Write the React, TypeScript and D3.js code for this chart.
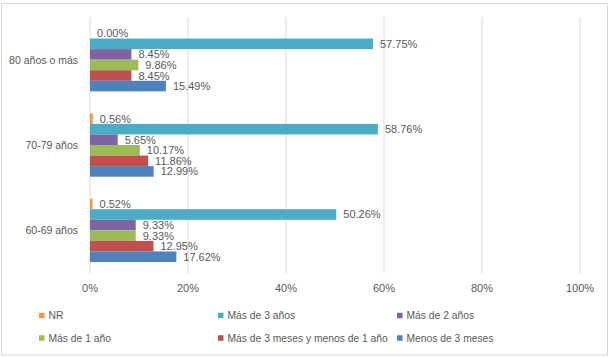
import React from "react";
import * as d3 from "d3";

const categories = ["80 años o más", "70-79 años", "60-69 años"];
const seriesNames = [
  "NR",
  "Más de 3 años",
  "Más de 2 años",
  "Más de 1 año",
  "Más de 3 meses y menos de 1 año",
  "Menos de 3 meses",
];
const seriesColors = ["#F79646", "#4BACC6", "#8064A2", "#9BBB59", "#C0504D", "#4F81BD"];
// values per series, aligned with categories
const nr = [0.0, 0.56, 0.52];
const mas3anos = [57.75, 58.76, 50.26];
const mas2anos = [8.45, 5.65, 9.33];
const mas1ano = [9.86, 10.17, 9.33];
const mas3meses = [8.45, 11.86, 12.95];
const menos3meses = [15.49, 12.99, 17.62];
const seriesValues = [nr, mas3anos, mas2anos, mas1ano, mas3meses, menos3meses];
const xTicks = [0, 20, 40, 60, 80, 100];

const W = 611;
const H = 358;
const FONT = "'Liberation Sans', Arial, sans-serif";
const TXT = "#595959";

export default function App() {
  const left = 90, right = 580, top = 17, bottom = 273;
  const x = d3.scaleLinear().domain([0, 100]).range([left, right]);
  const y = d3.scaleBand<string>().domain(categories).range([top, bottom]).paddingInner(0).paddingOuter(0);
  const groupInner = y.bandwidth() * 0.743;
  const yi = d3
    .scaleBand<string>()
    .domain(seriesNames)
    .range([0, groupInner]);
  const legendRows = [
    [0, 1, 2],
    [3, 4, 5],
  ];
  const legendCols = [39, 218, 397];
  const legendY = [315.5, 338];

  return (
    <svg width={W} height={H} style={{ position: "absolute", left: 0, top: 0 }} fontFamily={FONT}>
      <rect x={0} y={0} width={W} height={H} fill="#fff" />
      <rect x={1.5} y={3.5} width={606} height={351.5} fill="#fff" stroke="#D9D9D9" />
      {xTicks.map((t) => (
        <g key={t}>
          <line x1={x(t)} x2={x(t)} y1={top} y2={bottom} stroke="#D9D9D9" strokeWidth={1} />
          <text x={x(t)} y={288} textAnchor="middle" dominantBaseline="central" fontSize={11} fill={TXT}>
            {t}%
          </text>
        </g>
      ))}
      {categories.map((c, ci) => {
        const bandTop = (y(c) as number) + (y.bandwidth() - groupInner) / 2;
        return (
          <g key={c}>
            <text
              x={78}
              y={(y(c) as number) + y.bandwidth() / 2}
              textAnchor="end"
              dominantBaseline="central"
              fontSize={10.5}
              fill={TXT}
            >
              {c}
            </text>
            {seriesNames.map((s, si) => {
              const v = seriesValues[si][ci];
              const by = bandTop + (yi(s) as number);
              const bh = yi.bandwidth();
              return (
                <g key={s}>
                  <rect x={x(0)} y={by} width={Math.max(0, x(v) - x(0))} height={bh} fill={seriesColors[si]} />
                  <text
                    x={x(v) + 7}
                    y={by + bh / 2}
                    dominantBaseline="central"
                    fontSize={11}
                    fill={TXT}
                  >
                    {v.toFixed(2)}%
                  </text>
                </g>
              );
            })}
          </g>
        );
      })}
      {legendRows.map((row, ri) =>
        row.map((si, k) => (
          <g key={si}>
            <rect x={legendCols[k]} y={legendY[ri] - 2.75} width={5.5} height={5.5} fill={seriesColors[si]} />
            <text
              x={legendCols[k] + 9.5}
              y={legendY[ri]}
              dominantBaseline="central"
              fontSize={10.3}
              fill={TXT}
            >
              {seriesNames[si]}
            </text>
          </g>
        ))
      )}
    </svg>
  );
}
